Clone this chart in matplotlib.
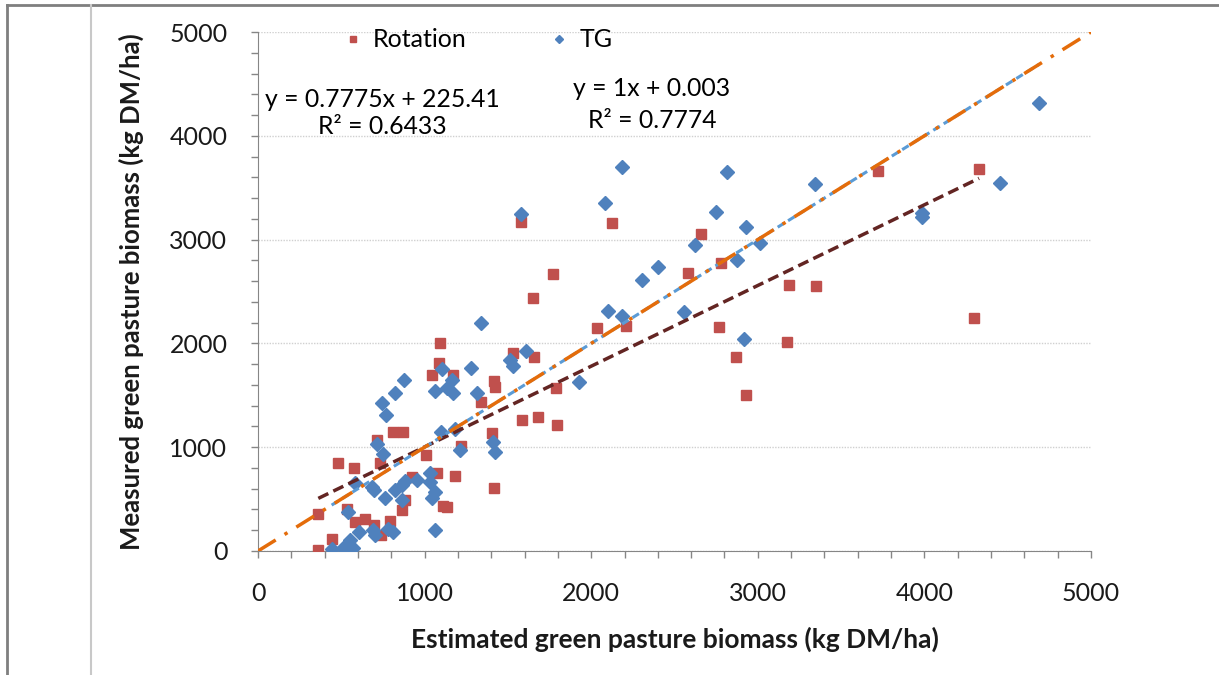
# LIBRARIES
import matplotlib
matplotlib.use("Agg")
import matplotlib.pyplot as plt
from matplotlib.lines import Line2D
from matplotlib.ticker import MultipleLocator

# DATA
# Rotation paddocks: estimated vs measured green biomass (kg DM/ha)
rotation_est = [362, 362, 446, 482, 576, 536, 582, 642, 696, 740, 790, 712, 734, 812,
                872, 864, 880, 922, 1006, 1072, 1042, 1088, 1092, 1168, 1110, 1134,
                1184, 1217, 1338, 1404, 1416, 1424, 1418, 1532, 1582, 1576, 1654, 1652,
                1682, 1772, 1786, 1792, 2032, 2122, 2208, 2582, 2660, 2782, 2768, 2872,
                2930, 3187, 3174, 3352, 3722, 4328, 4298]
rotation_meas = [10, 356, 116, 845, 800, 400, 275, 310, 250, 154, 290, 1069, 851, 1147,
                 1147, 395, 491, 710, 925, 750, 1696, 1808, 2000, 1692, 435, 427,
                 722, 1016, 1438, 1134, 1641, 1583, 604, 1905, 1262, 3173, 1866, 2434,
                 1290, 2667, 1567, 1217, 2151, 3157, 2164, 2675, 3054, 2779, 2154, 1872,
                 1503, 2562, 2017, 2553, 3664, 3683, 2242]
# TG paddocks
tg_est = [442, 508, 552, 572, 522, 542, 608, 692, 702, 782, 808, 582, 682, 696, 762,
          712, 752, 746, 770, 822, 878, 822, 862, 862, 882, 952, 1030, 1030, 1045,
          1065, 1065, 1060, 1102, 1097, 1132, 1162, 1172, 1182, 1214, 1277, 1317,
          1336, 1408, 1422, 1510, 1532, 1609, 1576, 1925, 2082, 2102, 2184, 2186,
          2306, 2399, 2625, 2560, 2752, 2814, 2876, 2930, 3016, 2917, 3346, 3986,
          3988, 4452, 4686]
tg_meas = [16, 26, 106, 26, 41, 379, 186, 202, 154, 210, 186, 652, 620, 588, 510,
           1034, 938, 1423, 1310, 1525, 1644, 588, 636, 491, 676, 684, 754, 668, 508,
           571, 205, 1541, 1750, 1142, 1567, 1647, 1519, 1177, 973, 1765, 1525,
           2193, 1053, 957, 1840, 1779, 1923, 3247, 1625, 3357, 2313, 2265, 3702,
           2606, 2740, 2951, 2306, 3266, 3654, 2800, 3124, 2964, 2040, 3532, 3253,
           3220, 3542, 4313]
# Trendline coefficients as shown on the chart
rot_slope, rot_icpt = 0.7775, 225.41
tg_slope, tg_icpt = 1.0, 0.003
one_to_one = [0, 5000]

# COLOURS
RED = '#C0504D'
BLUE = '#4F81BD'
GRAY = '#868686'

plt.rcParams['font.family'] = ['Lato', 'DejaVu Sans']

# INITIALIZE GRAPH
fig = plt.figure(figsize=(12.19, 6.75), dpi=100)
ax = fig.add_axes([258 / 1219, 1 - 551 / 675, 833 / 1219, 519 / 675])

# Outer frame pieces of the page
fig.add_artist(Line2D([7 / 1219, 7 / 1219], [0, 1 - 5 / 675], color='#7f7f7f', lw=2))
fig.add_artist(Line2D([7 / 1219, 1], [1 - 5 / 675, 1 - 5 / 675], color='#7f7f7f', lw=2))
fig.add_artist(Line2D([91 / 1219, 91 / 1219], [0, 1 - 5 / 675], color='#c8c8c8', lw=1.5))

# Points
ax.plot(rotation_est, rotation_meas, 's', color=RED, ms=7.3, mec=RED, label='Rotation',
        zorder=3)
ax.plot(tg_est, tg_meas, 'D', color=BLUE, ms=7.3, mec=BLUE, label='TG', zorder=4)

# Trendlines
rx = [min(rotation_est), max(rotation_est)]
ax.plot(rx, [rot_slope * v + rot_icpt for v in rx], color='#632523', lw=2.5,
        dashes=(3.2, 1.6), zorder=5)
tx = [min(tg_est), max(tg_est)]
ax.plot(tx, [tg_slope * v + tg_icpt for v in tx], color='#5B9BD5', lw=2.2,
        dashes=(2.5, 1.5), zorder=5)
ax.plot(one_to_one, one_to_one, color='#E46C0A', lw=2.5, dashes=(6, 3, 1, 3), zorder=6)

# Axes
ax.set_xlim(0, 5000)
ax.set_ylim(0, 5000)
ax.xaxis.set_major_locator(MultipleLocator(1000))
ax.yaxis.set_major_locator(MultipleLocator(1000))
ax.xaxis.set_minor_locator(MultipleLocator(200))
ax.yaxis.set_minor_locator(MultipleLocator(200))
ax.tick_params(which='both', direction='out', length=5, color=GRAY, width=1)
ax.tick_params(axis='both', which='major', labelsize=18, pad=17, labelcolor='#1a1a1a')
for s in ['top', 'right']:
    ax.spines[s].set_visible(False)
for s in ['left', 'bottom']:
    ax.spines[s].set_color(GRAY)
ax.grid(axis='y', which='major', ls=(0, (1, 1)), lw=1, color='#d0d0d0')
ax.set_axisbelow(True)

ax.set_xlabel('Estimated green pasture biomass (kg DM/ha)', fontsize=19,
              fontweight='bold', labelpad=16, color='#1a1a1a')
ax.set_ylabel('Measured green pasture biomass (kg DM/ha)', fontsize=18.5,
              fontweight='bold', labelpad=18, color='#1a1a1a')

# Equations
ax.text(0.149, 0.869, 'y = 0.7775x + 225.41', transform=ax.transAxes, fontsize=17.8,
        ha='center', va='center')
ax.text(0.149, 0.817, 'R² = 0.6433', transform=ax.transAxes, fontsize=17.8,
        ha='center', va='center')
ax.text(0.473, 0.892, 'y = 1x + 0.003', transform=ax.transAxes, fontsize=17.8,
        ha='center', va='center')
ax.text(0.473, 0.830, 'R² = 0.7774', transform=ax.transAxes, fontsize=17.8,
        ha='center', va='center')

# Legend
leg = ax.legend(loc='center left', bbox_to_anchor=(0.09, 0.985), ncol=2, frameon=False,
                fontsize=18, markerscale=0.55, handlelength=0.6, handletextpad=0.5,
                columnspacing=3.4, borderpad=0)

fig.savefig('out.png', dpi=100)
